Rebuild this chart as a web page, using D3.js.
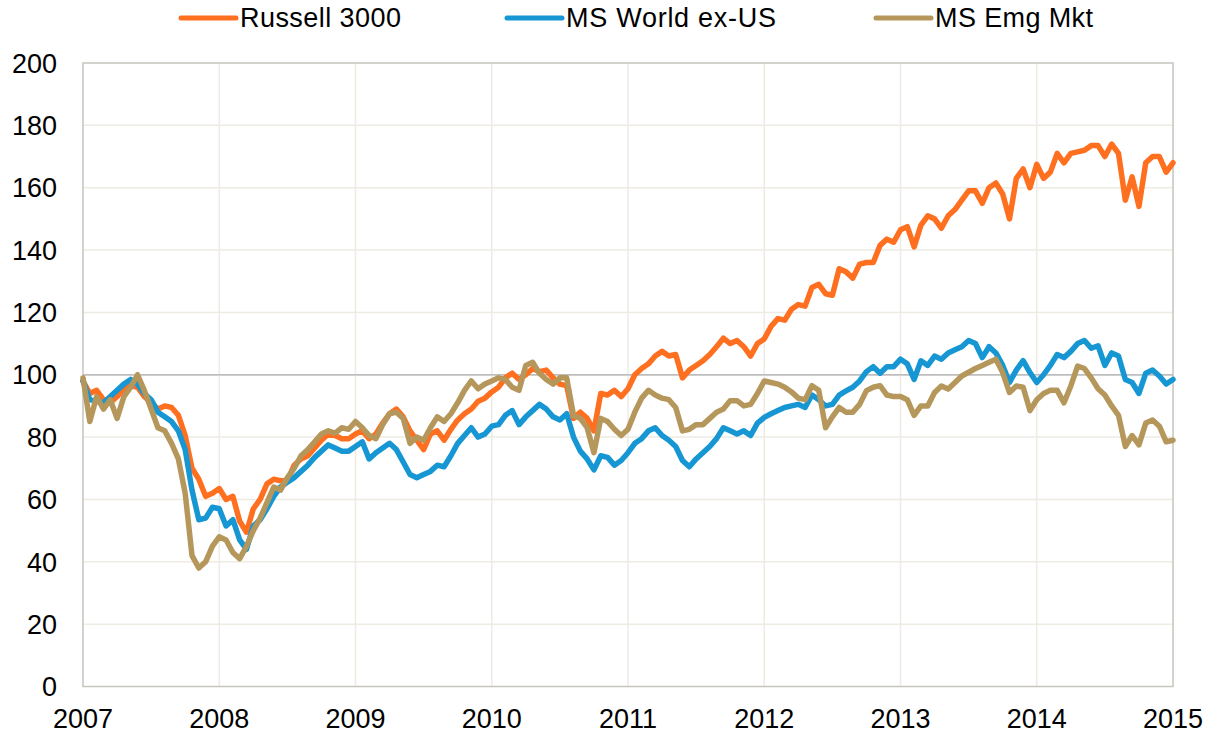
<!DOCTYPE html>
<meta charset="utf-8">
<style>
body { margin: 0; background: #fff; }
#grafico text {
  font-family: "Liberation Sans", Arial, sans-serif;
  font-size: 27px;
  fill: #000;
}
#grafico .serie {
  fill: none;
  stroke-width: 5.5;
  stroke-linejoin: round;
  stroke-linecap: round;
}
</style>
<svg id="grafico"></svg>
<script src="https://d3js.org/d3.v7.min.js"></script>
<script>

var series = ["Russell 3000", "MS World ex-US", "MS Emg Mkt"];
var colores = ["#ff6f20", "#1697d4", "#b5975b"];

var xTicks = [2007, 2008, 2009, 2010, 2011, 2012, 2013, 2014, 2015];
var yTicks = [0, 20, 40, 60, 80, 100, 120, 140, 160, 180, 200];

// one value every 1/20 of a year, from 2007 to 2015
var russell = [
  98, 94, 95, 92, 91, 93, 95.5, 96.5, 96, 93,
  91, 89, 90, 89.5, 87, 80.5, 70, 66.5, 61, 62,
  63.5, 60, 61, 53, 49.5, 57, 60, 65, 66.5, 66,
  66, 71, 73, 74, 76.5, 79, 81, 80.5, 79.5, 79.5,
  81, 82, 79.5, 81, 84.5, 87.5, 89, 86.5, 82, 79,
  76, 81, 82, 79, 82.5, 85.5, 87.5, 89, 91.5, 92.5,
  94.5, 96, 99, 100.5, 98.5, 100, 102, 101, 101.5, 99,
  97, 96.5, 86, 88, 86, 82, 94, 93.5, 95, 93,
  95.5, 100, 102, 103.5, 106, 107.5, 106, 106.5, 99, 101.5,
  103, 104.5, 106.5, 109, 111.7, 110, 111, 109, 106, 110,
  111.5, 115.5, 118, 117.5, 121, 122.5, 122, 128, 129, 126,
  125.5, 134, 133, 131, 135.5, 136, 136, 141.5, 143.5, 142.5,
  146.5, 147.5, 141, 148, 151, 150, 147, 151, 153, 156,
  159, 159, 155, 160, 161.5, 158, 150, 163, 166, 160,
  167.5, 163, 165, 171, 168, 171, 171.5, 172, 173.5, 173.5,
  170, 174, 171, 156, 163.5, 154, 168, 170, 170, 165,
  168
];

var worldExUS = [
  98, 92, 91.5, 91, 93, 95, 97, 98.5, 97, 94,
  92, 88, 86.5, 85, 82, 76, 63, 53.5, 54, 57.5,
  57, 51.5, 53.5, 47, 44, 51.5, 53.5, 57, 61, 64,
  65.5, 67, 69, 71, 73.5, 75.5, 77.5, 76.5, 75.5, 75.5,
  77, 78.5, 73, 75, 76.5, 78, 76, 72, 68, 67,
  68, 69, 71, 70.5, 74, 78, 80.5, 83, 80, 81,
  83.5, 84, 87, 88.5, 84, 86.5, 88.5, 90.5, 89, 86.5,
  85.5, 87.5, 80, 75.5, 73, 69.5, 74, 73.5, 71, 72.5,
  75, 78, 79.5, 82, 83, 80.5, 79, 77, 72.5, 70.5,
  73, 75, 77, 79.5, 83, 82, 81, 82, 80.5, 84.5,
  86.3, 87.5, 88.5, 89.5, 90, 90.5, 89.5, 93.5, 92, 90,
  90.5, 93.5, 94.8, 96, 98, 101, 102.6, 100.5, 102.6, 102.6,
  105, 103.5, 98.5, 104.5, 103, 106, 105, 107, 108, 109,
  111, 110, 105.5, 109, 107, 103, 97.5, 101.5, 104.5, 100.7,
  97.5, 100, 103, 106.5, 105.5, 107.5, 110, 111, 108.5, 109.3,
  103, 107, 106, 98.5, 97.5, 94, 100.5, 101.5, 99.6, 97,
  98.5
];

var emgMkt = [
  99, 85, 93, 89, 92, 86, 93, 96, 100, 95,
  89, 83, 82, 78, 73, 62, 42, 38, 40, 45,
  48, 47, 43, 41, 45, 50, 54, 59, 64, 63,
  67, 70, 74, 76, 78.5, 81, 82, 81.3, 83, 82.5,
  85, 83, 80.5, 79.5, 84, 87.5, 88, 86, 78, 80,
  79, 83, 86.5, 85, 87.5, 91, 95, 98, 95.5, 97,
  98, 99, 98.5, 96, 95, 103, 104, 100.5, 98.5, 97,
  99, 99, 87, 86, 83, 75, 86, 85, 82.5, 80.5,
  82.5, 88, 92.5, 95, 93.5, 92.5, 92, 89.5, 82, 82.5,
  84, 84, 86, 88, 89, 91.7, 91.7, 90, 90.5, 94,
  98, 97.5, 97, 96, 94.5, 92.5, 92, 96.5, 95, 83,
  86.5, 89.5, 88, 88, 90.5, 94.9, 96, 96.5, 93.5, 93,
  93, 92, 87, 90, 90, 94.3, 96.4, 95.4, 97.5, 99.6,
  100.8, 102, 103, 104, 105, 100.7, 94.3, 96.4, 96, 88.5,
  92, 94, 95, 95, 91, 96.4, 102.8, 102, 99, 95.5,
  93.5, 90, 87, 77, 80.5, 77.5, 84.5, 85.5, 83.5, 78.5,
  79
];

var fechas = d3.range(russell.length).map(function(i) { return 2007 + i / 20; });

var width = 1211,
    height = 735,
    margen = {left: 83, right: 38, top: 63, bottom: 48.5};

var x = d3.scaleLinear()
    .domain([2007, 2015])
    .range([margen.left, width - margen.right]);

var y = d3.scaleLinear()
    .domain([0, 200])
    .range([height - margen.bottom, margen.top]);

var svg = d3.select("#grafico")
    .attr("width", width)
    .attr("height", height);

// grid
svg.append("g").selectAll("line")
    .data(yTicks.slice(1, -1))
  .enter().append("line")
    .attr("x1", x(2007)).attr("x2", x(2015))
    .attr("y1", function(d) { return y(d); })
    .attr("y2", function(d) { return y(d); })
    .attr("stroke", function(d) { return d === 100 ? "#bdbdbd" : "#eeebe3"; })
    .attr("stroke-width", 1.5);

svg.append("g").selectAll("line")
    .data(xTicks.slice(1, -1))
  .enter().append("line")
    .attr("x1", function(d) { return x(d); })
    .attr("x2", function(d) { return x(d); })
    .attr("y1", y(0)).attr("y2", y(200))
    .attr("stroke", "#eeebe3")
    .attr("stroke-width", 1.5);

// marco
svg.append("rect")
    .attr("x", x(2007))
    .attr("y", y(200))
    .attr("width", x(2015) - x(2007))
    .attr("height", y(0) - y(200))
    .attr("fill", "none")
    .attr("stroke", "#c6c4bd")
    .attr("stroke-width", 1.5);

// the 100 line goes above the grid
svg.append("line")
    .attr("x1", x(2007)).attr("x2", x(2015))
    .attr("y1", y(100)).attr("y2", y(100))
    .attr("stroke", "#bdbdbd")
    .attr("stroke-width", 1.5);

// ejes
svg.append("g").selectAll("text")
    .data(yTicks)
  .enter().append("text")
    .attr("x", 57)
    .attr("y", function(d) { return y(d); })
    .attr("dy", "0.36em")
    .attr("text-anchor", "end")
    .text(function(d) { return d; });

svg.append("g").selectAll("text")
    .data(xTicks)
  .enter().append("text")
    .attr("x", function(d) { return x(d); })
    .attr("y", 728)
    .attr("text-anchor", "middle")
    .text(function(d) { return d; });

// lineas
var linea = d3.line()
    .x(function(d, i) { return x(fechas[i]); })
    .y(function(d) { return y(d); });

var datos = [russell, worldExUS, emgMkt];

svg.append("g").selectAll("path")
    .data(datos)
  .enter().append("path")
    .attr("class", "serie")
    .attr("stroke", function(d, i) { return colores[i]; })
    .attr("d", linea);

// leyenda
var leyendaX = [181, 507, 876];

var item = svg.append("g").selectAll("g")
    .data(series)
  .enter().append("g")
    .attr("transform", function(d, i) { return "translate(" + leyendaX[i] + ",0)"; });

item.append("line")
    .attr("x1", 0).attr("x2", 55)
    .attr("y1", 18).attr("y2", 18)
    .attr("stroke", function(d, i) { return colores[i]; })
    .attr("stroke-width", 5)
    .attr("stroke-linecap", "round");

item.append("text")
    .attr("x", 59)
    .attr("y", 27)
    .attr("textLength", function(d, i) { return [161, 210, 158][i]; })
    .text(function(d) { return d; });

</script>
